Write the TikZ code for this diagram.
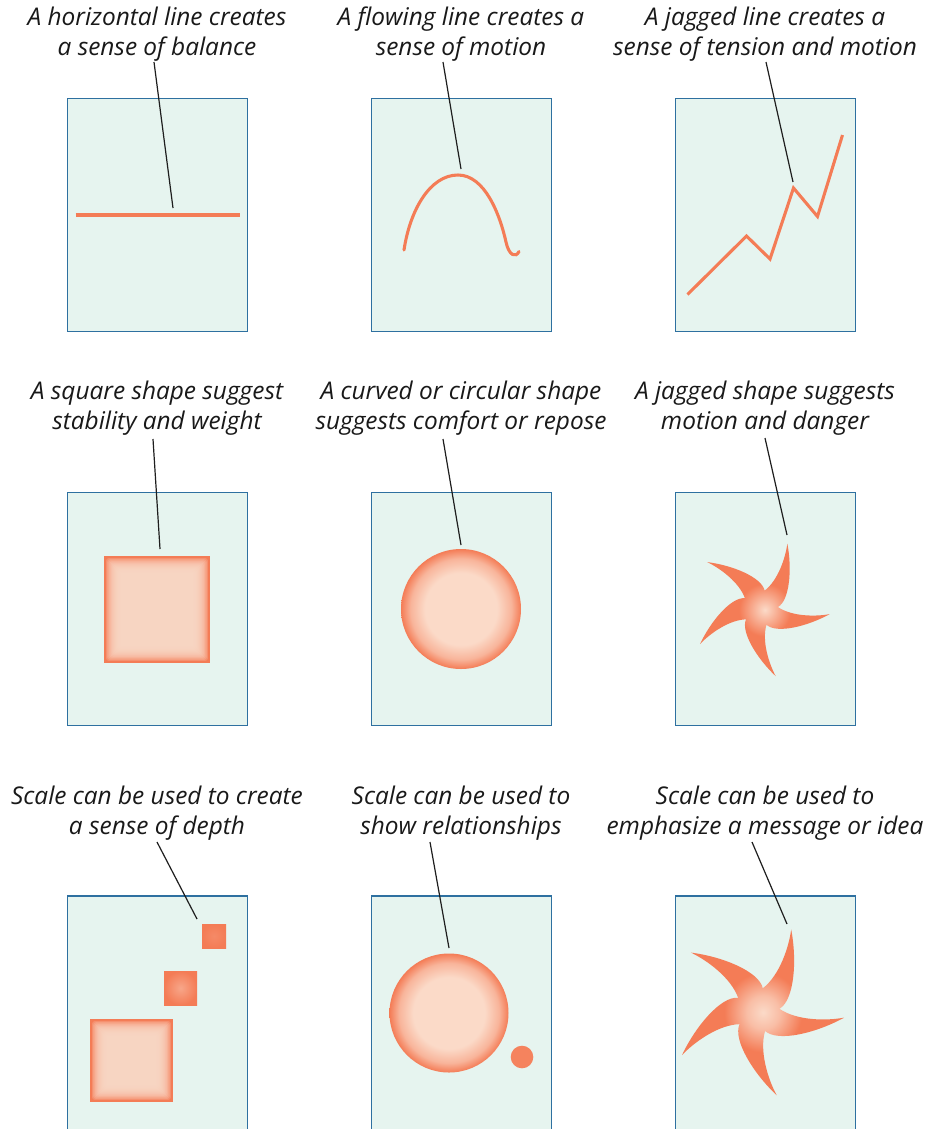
\documentclass[tikz,border=0pt]{standalone}
\usepackage{fontspec}
\setmainfont{Open Sans}
\definecolor{boxfill}{RGB}{230,244,239}
\definecolor{boxline}{RGB}{46,112,160}
\definecolor{orng}{RGB}{244,124,86}
\definecolor{pale}{RGB}{251,218,200}
\definecolor{conncol}{RGB}{30,30,30}
\pgfdeclareradialshading{ballshade}{\pgfpointorigin}{color(0bp)=(pale); color(15bp)=(pale); color(21bp)=(pale!60!orng); color(25bp)=(orng); color(50bp)=(orng)}
\pgfdeclareradialshading{starshade}{\pgfpointorigin}{color(0bp)=(pale); color(3bp)=(pale!70!orng); color(10bp)=(orng); color(50bp)=(orng)}
\pgfdeclareradialshading{bigstarshade}{\pgfpointorigin}{color(0bp)=(pale); color(5bp)=(pale!70!orng); color(12bp)=(orng); color(50bp)=(orng)}
\tikzset{
  panel/.style={draw=boxline, fill=boxfill, line width=1.15pt},
  oline/.style={draw=orng, line width=2.3pt},
  conn/.style={draw=conncol, line width=0.9pt},
  lbl/.style={font=\fontsize{18.3}{22.5}\selectfont\itshape, align=center, anchor=base, inner sep=0pt, text=black!90},
}
\newcommand{\softsq}[4]{%
  \fill[orng] (#1,#2) rectangle (#3,#4);
  \foreach \i in {1,...,14}{
    \fill[pale, opacity=0.22, rounded corners=2pt] ({#1+1+\i*1.1},{#2+1+\i*1.1}) rectangle ({#3-1-\i*1.1},{#4-1-\i*1.1});
  }%
}
\newcommand{\pinwheel}{%
  (3:18) \foreach \k in {0,72,144,216,288}{
    .. controls ({\k+15}:31) and ({\k+51}:51) .. ({\k+67}:70)
    .. controls ({\k+63}:56) and ({\k+57}:33) .. ({\k+75}:18)
  } -- cycle
}
\begin{document}
\begin{tikzpicture}[x=0.75pt,y=-0.75pt]
\useasboundingbox (0,0) rectangle (925,1129);
\fill[white] (0,0) rectangle (925,1129);

% ---------- panels ----------
\foreach \xl in {67.5,371.5,675.5}{
  \draw[panel] (\xl,98.5) rectangle ++(180,233);
  \draw[panel] (\xl,492.5) rectangle ++(180,233);
  \draw[panel] (\xl,896) rectangle ++(180,240);
}

% ---------- row 1 ----------
\node[lbl] (t11) at (157,55) {A horizontal line creates\\a sense of balance};
\node[lbl] (t12) at (461,55) {A flowing line creates a\\sense of motion};
\node[lbl] (t13) at (765,55) {A jagged line creates a\\sense of tension and motion};

\draw[oline] (75.5,215) -- (239.5,215);
\draw[oline, line cap=round] (404,250) .. controls (410,210) and (430,175) .. (458,175)
  .. controls (485,175) and (500,215) .. (506,242)
  .. controls (509,256) and (516,258) .. (519,251.5);
\draw[oline] (687.5,294.5) -- (746.5,236) -- (770,259) -- (793.5,188) -- (817.5,216.5) -- (842.5,135);

\coordinate (a11) at (154,62);  \coordinate (b11) at (173,208);
\coordinate (a12) at (443,62);  \coordinate (b12) at (461,169);
\coordinate (a13) at (766,62);  \coordinate (b13) at (793,182);
\draw[conn] (a11) -- (b11);
\draw[conn] (a12) -- (b12);
\draw[conn] (a13) -- (b13);

% ---------- row 2 ----------
\node[lbl] (t21) at (157,429) {A square shape suggest\\stability and weight};
\node[lbl] (t22) at (461,429) {A curved or circular shape\\suggests comfort or repose};
\node[lbl] (t23) at (765,429) {A jagged shape suggests\\motion and danger};

\softsq{104}{556}{210}{663}
\shade[shading=ballshade] (461,609) circle (60);
\begin{scope}[shift={(760,608)}, yscale=-1]
  \shade[shading=starshade] \pinwheel;
\end{scope}

\coordinate (a21) at (153,439);  \coordinate (b21) at (160,549);
\coordinate (a22) at (443,439);  \coordinate (b22) at (461,545);
\coordinate (a23) at (765,438);  \coordinate (b23) at (787,535);
\draw[conn] (a21) -- (b21);
\draw[conn] (a22) -- (b22);
\draw[conn] (a23) -- (b23);

% ---------- row 3 ----------
\node[lbl] (t31) at (157,834) {Scale can be used to create\\a sense of depth};
\node[lbl] (t32) at (461,834) {Scale can be used to\\show relationships};
\node[lbl] (t33) at (765,834) {Scale can be used to\\emphasize a message or idea};

\shade[inner color=orng!85!pale, outer color=orng] (202,924) rectangle (226,948);
\shade[inner color=orng!55!pale, outer color=orng] (164,971) rectangle (197,1005);
\softsq{90}{1019}{173}{1102}

\shade[shading=ballshade] (449,1013) circle (59.5);
\fill[orng!95!white] (522,1057) circle (11.3);

\begin{scope}[shift={(757,1010)}, yscale=-1.25, xscale=1.25]
  \shade[shading=bigstarshade] \pinwheel;
\end{scope}

\coordinate (a31) at (157,842);  \coordinate (b31) at (197,919);
\coordinate (a32) at (430,842);  \coordinate (b32) at (449,948);
\coordinate (a33) at (752,842);  \coordinate (b33) at (787,924);
\draw[conn] (a31) -- (b31);
\draw[conn] (a32) -- (b32);
\draw[conn] (a33) -- (b33);
\end{tikzpicture}
\end{document}
